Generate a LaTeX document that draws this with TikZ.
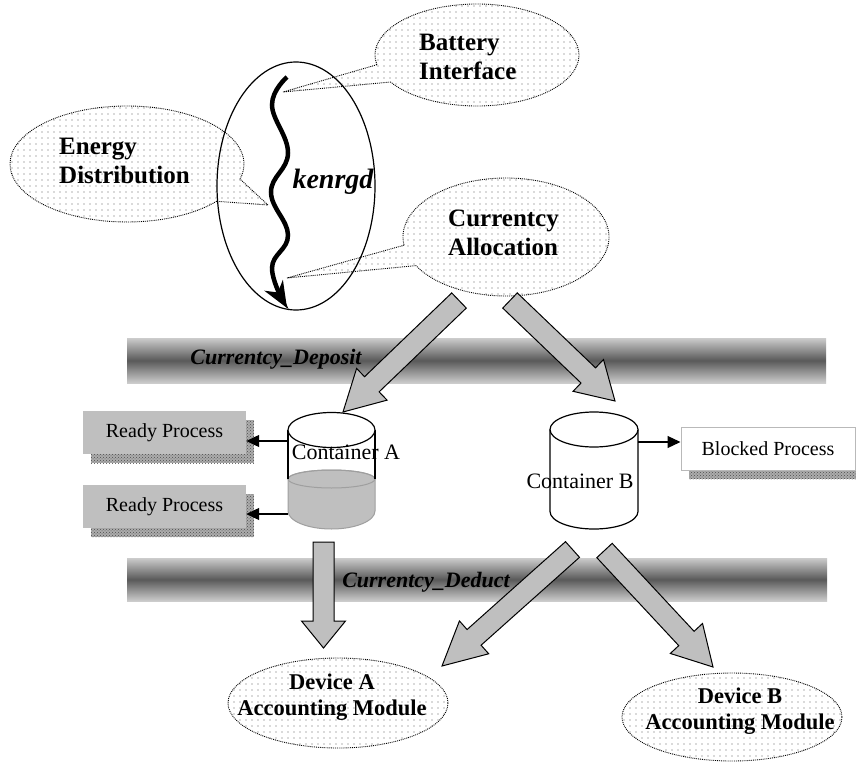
\documentclass[tikz,border=0pt]{standalone}
\usepackage{fontspec}
\setmainfont{Liberation Serif}
\usetikzlibrary{arrows.meta, calc, patterns, patterns.meta, shadows}

% wide grey arrow from #2 to #3, #1 = head length
\newcommand{\blockarrow}[3][40pt]{%
  \coordinate (bh) at ($(#3)!#1!(#2)$);
  \draw[blockarr] ($(#2)!10.5pt!90:(#3)$) -- ($(bh)!10.5pt!90:(#3)$)
    -- ($(bh)!22pt!90:(#3)$) -- (#3) -- ($(bh)!22pt!-90:(#3)$)
    -- ($(bh)!10.5pt!-90:(#3)$) -- ($(#2)!10.5pt!-90:(#3)$) -- cycle;
}

\tikzset{
  bubble/.style={preaction={fill=white}, pattern={Dots[distance=6pt, radius=0.7pt]},
    pattern color=gray!75!black, draw=black, densely dotted, line width=0.9pt},
  bubbletext/.style={font=\fontsize{25}{29}\selectfont\bfseries, align=left, inner sep=0pt},
  devtext/.style={font=\fontsize{22.5}{26}\selectfont\bfseries, align=center, inner sep=0pt},
  bar/.style={top color=gray!40, bottom color=gray!40, middle color=gray!70!black},
  bartext/.style={font=\fontsize{22}{26}\selectfont\bfseries\itshape, inner sep=0pt},
  blockarr/.style={fill=gray!50, draw=black, line width=1pt, line join=miter},
  boxshadow/.style={general shadow={shadow xshift=8pt, shadow yshift=-9pt, fill=gray!65},
    general shadow={shadow xshift=8pt, shadow yshift=-9pt, pattern=crosshatch dots, pattern color=black!70}},
  procbox/.style={fill=gray!50, minimum width=163pt, minimum height=43pt, inner sep=0pt,
    font=\fontsize{20}{24}\selectfont, boxshadow},
  blockbox/.style={fill=white, draw=gray!55, line width=1pt, minimum width=174pt,
    minimum height=43pt, inner sep=0pt, font=\fontsize{20}{24}\selectfont, boxshadow},
  smallarr/.style={line width=1.2pt, -{Triangle[length=13pt, width=12pt]}},
  cyl/.style={line width=1.2pt}
}

\begin{document}
\begin{tikzpicture}[x=1pt, y=-1pt]
    \path[use as bounding box, fill=white] (0,0) rectangle (856,762);

    % Callouts
    \coordinate (etip) at (268,205);
    \coordinate (btip) at (283,92);
    \coordinate (ctip) at (287,278);
    \path[bubble] ([shift={(127,164)}]40:117 and 58)
        arc[start angle=40, end angle=375, x radius=117, y radius=58] -- (etip) -- cycle;
    \path[bubble] ([shift={(477,55)}]169:102 and 51)
        arc[start angle=169, end angle=508, x radius=102, y radius=51] -- (btip) -- cycle;
    \path[bubble] ([shift={(506,237)}]172:103 and 59)
        arc[start angle=172, end angle=511, x radius=103, y radius=59] -- (ctip) -- cycle;
    \node[bubbletext, anchor=west] (energy) at (59,161) {Energy\\Distribution};
    \node[bubbletext, anchor=west] (battery) at (419,57) {Battery\\Interface};
    \node[bubbletext, anchor=west] (alloc) at (448,233) {Currentcy\\Allocation};

    % kenrgd thread
    \draw[line width=1.2pt] (296,186) ellipse[x radius=79, y radius=124];
    \draw[line width=4.5pt, -{Stealth[length=26pt, width=21pt, inset=8pt]}]
        plot[smooth, tension=0.7] coordinates {(287,77) (272,105) (288,153) (271,192) (288,235) (272,268) (287,308)};
    \node[font=\fontsize{28}{32}\selectfont\bfseries\itshape, inner sep=0pt] (kname) at (333,182) {kenrgd};

    % Interface bars
    \shade[bar] (127,338) rectangle (826,383);
    \shade[bar] (127,558) rectangle (827,601);
    \node[bartext] (deposit) at (276,359) {Currentcy\_Deposit};
    \node[bartext] (deduct) at (426,582) {Currentcy\_Deduct};

    % Container A
    \fill[white] (288,430) rectangle (375,511);
    \path[fill=gray!50, draw=gray!75, line width=1pt] (288,479) -- (288,511)
        arc[start angle=180, end angle=0, x radius=43.5, y radius=18] -- (375,479)
        arc[start angle=0, end angle=-180, x radius=43.5, y radius=9] -- cycle;
    \draw[gray!75, line width=1pt] (331.5,479) ellipse[x radius=43.5, y radius=9];
    \draw[cyl] (288,479) -- (288,430) (375,430) -- (375,479);
    \draw[cyl, fill=white] (331.5,430) ellipse[x radius=43.5, y radius=17.5];
    \node[font=\fontsize{22}{26}\selectfont, inner sep=0pt] (contA) at (346,452) {Container A};

    % Container B
    \draw[cyl, fill=white] (550,429.5) -- (550,511.5)
        arc[start angle=180, end angle=0, x radius=44, y radius=17.5] -- (638,429.5);
    \draw[cyl, fill=white] (594,429.5) ellipse[x radius=44, y radius=17.5];
    \node[font=\fontsize{22}{26}\selectfont, inner sep=0pt] (contB) at (580,481) {Container B};

    % Processes
    \node[procbox] (ready1) at (164.5,432.5) {Ready Process};
    \node[procbox] (ready2) at (164.5,506.5) {Ready Process};
    \node[blockbox] (blocked) at (768,448.5) {Blocked Process};
    \coordinate (ra1) at (288,441);
    \coordinate (ra2) at (288,514);
    \coordinate (rb) at (638,442);
    \draw[smallarr] (ra1) -- (ra1 -| ready1.east);
    \draw[smallarr] (ra2) -- (ra2 -| ready2.east);
    \draw[smallarr] (rb) -- (rb -| blocked.west);

    % Wide arrows
    \coordinate (a1s) at (459,300.5);
    \coordinate (a1e) at (343,412);
    \coordinate (a2s) at (510,300.5);
    \coordinate (a2e) at (615,401);
    \coordinate (a3s) at (323.5,542);
    \coordinate (a3e) at (323.5,648);
    \coordinate (a4s) at (572.5,549.5);
    \coordinate (a4e) at (442,666);
    \coordinate (a5s) at (604.5,550.5);
    \coordinate (a5e) at (713,667);
    \blockarrow{a1s}{a1e}
    \blockarrow[37pt]{a2s}{a2e}
    \blockarrow[27pt]{a3s}{a3e}
    \blockarrow[43pt]{a4s}{a4e}
    \blockarrow[39pt]{a5s}{a5e}

    % Accounting modules
    \path[bubble] (338,703) ellipse[x radius=110, y radius=45];
    \path[bubble] (732,717) ellipse[x radius=110, y radius=44];
    \node[devtext] (devA) at (332,697) {Device A\\Accounting Module};
    \node[devtext] (devB) at (740,711) {Device B\\Accounting Module};
\end{tikzpicture}
\end{document}
